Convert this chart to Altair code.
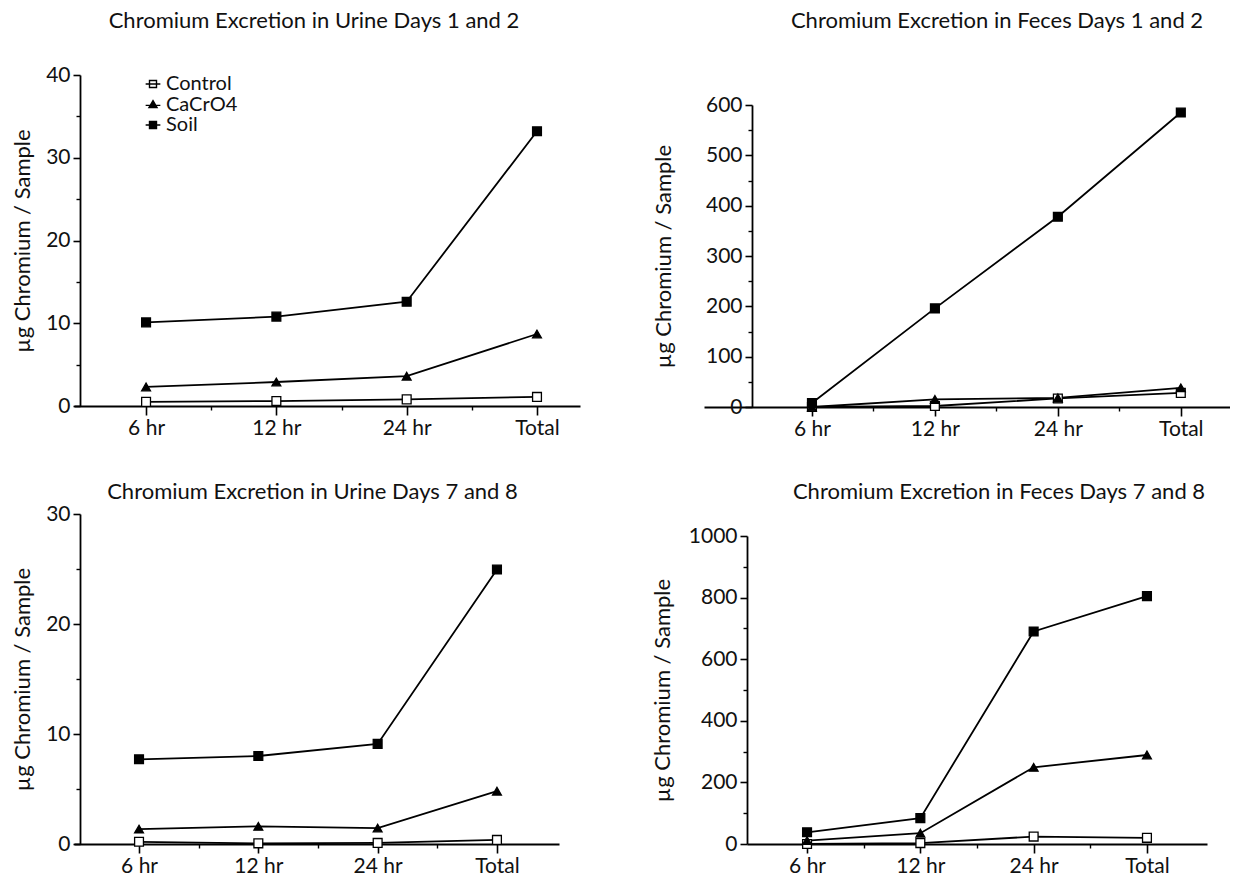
import altair as alt
import pandas as pd

categories = ["6 hr", "12 hr", "24 hr", "Total"]
series_names = ["Control", "CaCrO4", "Soil"]

urine_d12 = {
    "Control": [0.5, 0.6, 0.8, 1.1],
    "CaCrO4": [2.3, 2.9, 3.6, 8.7],
    "Soil": [10.1, 10.8, 12.6, 33.2],
}
feces_d12 = {
    "Control": [0, 2, 17, 28],
    "CaCrO4": [0, 15, 18, 38],
    "Soil": [8, 196, 378, 585],
}
urine_d78 = {
    "Control": [0.2, 0.06, 0.1, 0.37],
    "CaCrO4": [1.35, 1.6, 1.45, 4.8],
    "Soil": [7.7, 8.0, 9.1, 24.95],
}
feces_d78 = {
    "Control": [0, 3, 24, 20],
    "CaCrO4": [11, 35, 249, 289],
    "Soil": [38, 84, 690, 805],
}

titles = [
    "Chromium Excretion in Urine Days 1 and 2",
    "Chromium Excretion in Feces Days 1 and 2",
    "Chromium Excretion in Urine Days 7 and 8",
    "Chromium Excretion in Feces Days 7 and 8",
]
y_title = "µg Chromium / Sample"

FONT = "Lato"
INK = "#111111"

marker_shapes = ["square", "triangle-up", "square"]
marker_fills = ["white", "black", "black"]
legend_shapes = [
    "M-1,-1H1V1H-1ZM-2.1,0H2.1",
    "M0,-1.1L1.15,0.9H-1.15ZM-2.1,0.25H2.1",
    "M-1,-1H1V1H-1ZM-2.1,0H2.1",
]


def make_df(d):
    rows = []
    for s in series_names:
        for i, c in enumerate(categories):
            rows.append({"series": s, "time": c, "pos": i + 1, "value": d[s][i]})
    return pd.DataFrame(rows)


label_expr = "[''," + ",".join("'%s'" % c for c in categories) + "][datum.value]"


def panel(d, ymax, ymajor, yminor, width, height, xdom, yoff, title_pad, legend=False):
    df = make_df(d)
    xs = alt.Scale(domain=xdom, nice=False, zero=False)
    ys = alt.Scale(domain=[0, ymax], nice=False)
    base = alt.Chart(df)

    lines = base.mark_line(color="black", strokeWidth=1.8).encode(
        x=alt.X("pos:Q", scale=xs, axis=alt.Axis(
            values=[1, 2, 3, 4], labelExpr=label_expr, title=None, grid=False,
            tickSize=9, tickWidth=1.6, domainWidth=1.8, domainColor="black",
            tickColor="black", labelFont=FONT, labelFontSize=21, labelColor=INK,
            labelPadding=2, orient="bottom")),
        y=alt.Y("value:Q", scale=ys, axis=alt.Axis(
            values=ymajor, format="d", title=y_title, grid=False, offset=yoff,
            tickSize=7, tickWidth=1.6, domainWidth=1.8, domainColor="black",
            tickColor="black", labelFont=FONT, labelFontSize=21, labelColor=INK,
            labelPadding=3, titleFont=FONT, titleFontSize=22,
            titleFontWeight="normal", titleColor=INK, titlePadding=title_pad,
            orient="left")),
        detail="series:N",
        order="pos:Q",
    )

    points = base.mark_point(filled=True, stroke="black", strokeWidth=1.3,
                             opacity=1, size=78).encode(
        x=alt.X("pos:Q", scale=xs, axis=None),
        y=alt.Y("value:Q", scale=ys, axis=None),
        shape=alt.Shape("series:N", scale=alt.Scale(domain=series_names, range=marker_shapes), legend=None),
        fill=alt.Fill("series:N", scale=alt.Scale(domain=series_names, range=marker_fills), legend=None),
    )

    minor = base.mark_point(opacity=0).encode(
        x=alt.X("pos:Q", scale=xs, axis=alt.Axis(
            values=[1.5, 2.5, 3.5], labels=False, domain=False, title=None,
            grid=False, tickSize=4, tickWidth=1.4, tickColor="black", orient="bottom")),
        y=alt.Y("value:Q", scale=ys, axis=alt.Axis(
            values=yminor, labels=False, domain=False, title=None, grid=False,
            tickSize=4, tickWidth=1.4, tickColor="black", offset=yoff, orient="left")),
    )

    layers = [lines, points, minor]
    resolve_kw = dict(shape="independent", fill="independent")
    if legend:
        leg = alt.Legend(
            orient="none", legendX=69, legendY=-1, title=None,
            labelFont=FONT, labelFontSize=20, labelColor=INK, labelOffset=3,
            symbolSize=49, symbolStrokeWidth=1.4,
            rowPadding=0.5, padding=0,
        )
        legend_layer = base.transform_filter("false").mark_point(
            filled=True, stroke="black", strokeWidth=1.4, opacity=1).encode(
            x=alt.X("pos:Q", scale=xs, axis=None),
            y=alt.Y("value:Q", scale=ys, axis=None),
            shape=alt.Shape("series:N", scale=alt.Scale(domain=series_names, range=legend_shapes), legend=leg),
            color=alt.Color("series:N", scale=alt.Scale(domain=series_names, range=marker_fills), legend=leg),
        )
        layers.append(legend_layer)
        resolve_kw["color"] = "independent"

    return alt.layer(*layers).resolve_axis(
        x="independent", y="independent"
    ).resolve_scale(**resolve_kw).properties(
        width=width, height=height,
    )


def spacer(title, width, height, offset, dx):
    return alt.Chart(pd.DataFrame({"v": [0]})).mark_point(size=0, opacity=0).encode(
        x=alt.value(0), y=alt.value(0)
    ).properties(
        width=width, height=height,
        title=alt.TitleParams(title, font=FONT, fontSize=22, fontWeight="normal",
                              color=INK, anchor="middle", frame="group",
                              offset=offset, dx=dx),
    )


def column(title, pnl, width, sp_height, offset, dx):
    return alt.vconcat(spacer(title, width, sp_height, offset, dx), pnl, spacing=0)


p1 = panel(urine_d12, 40, [0, 10, 20, 30, 40], [5, 15, 25, 35],
           506, 331, [0.447, 4.33], -6, 11, legend=True)
p2 = panel(feces_d12, 600, [0, 100, 200, 300, 400, 500, 600],
           [50, 150, 250, 350, 450, 550], 526, 302, [0.122, 4.4], -48, 30)
p3 = panel(urine_d78, 30, [0, 10, 20, 30], [5, 15, 25],
           485, 330, [0.455, 4.52], -6, 11)
p4 = panel(feces_d78, 1000, [0, 200, 400, 600, 800, 1000],
           [100, 300, 500, 700, 900], 460, 308, [0.47, 4.53], 0, 14)

c1 = column(titles[0], p1, 506, 31, 0, -13)
c2 = column(titles[1], p2, 526, 61, 0, 30)
c3 = column(titles[2], p3, 485, 5, -6, -4)
c4 = column(titles[3], p4, 460, 27, -6, 22)

row1 = alt.hconcat(c1, c2, spacing=72)
row2 = alt.hconcat(c3, c4, spacing=92)

chart = alt.vconcat(row1, row2, spacing=42).properties(
    padding={"left": 11, "top": 10, "right": 0, "bottom": 0},
    background="white",
).configure_view(stroke=None)

chart.save("out.html", embed_options={"renderer": "svg", "actions": False})
